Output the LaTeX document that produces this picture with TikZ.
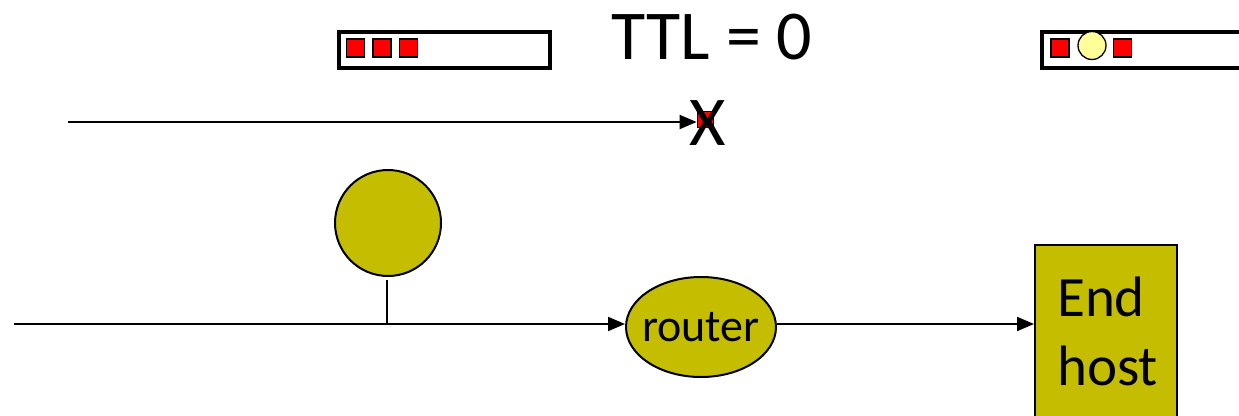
\documentclass[tikz,border=0pt]{standalone}
\usepackage{fontspec}
\setmainfont{Carlito}
\usetikzlibrary{arrows.meta,shapes.geometric,calc}
\definecolor{olive}{RGB}{197,190,0}
\definecolor{pktred}{RGB}{255,0,0}
\definecolor{pale}{RGB}{255,255,153}
\tikzset{
  buf/.style={draw=black,line width=4pt,fill=white,inner sep=0pt,anchor=north west},
  pkt/.style={draw=black,line width=1.3pt,fill=pktred,minimum size=18pt,inner sep=0pt},
  conn/.style={line width=2pt,-{Triangle[length=17pt,width=14pt]}},
  wire/.style={line width=2pt},
}
\begin{document}
\begin{tikzpicture}[x=1pt,y=-1pt]
\useasboundingbox[fill=white] (0,0) rectangle (1239,415);
% buffers
\node[buf,minimum width=211pt,minimum height=36pt] (buf1) at (336.5,29.5) {};
\node[pkt] (p1) at (355.5,48) {};
\node[pkt] (p2) at (382,48) {};
\node[pkt] (p3) at (408.5,48) {};
\node[buf,minimum width=220pt,minimum height=36pt] (buf2) at (1039.5,29.5) {};
\node[pkt] (q1) at (1060,48) {};
\node[circle,draw=black,line width=1.3pt,fill=pale,minimum size=28pt,inner sep=0pt] (q2) at (1092,45.5) {};
\node[pkt] (q3) at (1122.5,48) {};
% TTL label
\node[font=\fontsize{70}{74}\selectfont,inner sep=0pt] (ttl) at (712,37) {TTL = 0};
% dropped packet
\coordinate (src) at (68,122);
\node[pkt,minimum size=16pt,line width=0.8pt] (drop) at (705,119) {};
\node[font=\fontsize{70}{74}\selectfont,inner sep=0pt] (x) at (708,123) {X};
\draw[conn] (src) -- (src -| drop.west);
% host on the wire
\node[circle,draw=black,line width=2pt,fill=olive,minimum size=106pt,inner sep=0pt] (hostc) at (388,223) {};
\coordinate (left) at (14,324);
\coordinate (tap) at (387,324);
\node[ellipse,draw=black,line width=2pt,fill=olive,minimum width=150pt,minimum height=100pt,inner sep=0pt] (router) at (701,327) {};
\node[font=\fontsize{46}{50}\selectfont,inner sep=0pt] (routerlabel) at (router.center) {router};
\node[draw=black,line width=2pt,fill=olive,minimum width=142pt,minimum height=190pt,inner sep=0pt,anchor=north west] (endhost) at (1034,244) {};
\node[font=\fontsize{57}{69}\selectfont,align=left,anchor=north west,inner sep=0pt] (ehtext) at (1057,277) {End\\host};
\draw[wire] ($(tap |- hostc.south)+(0,3)$) -- (tap);
\draw[conn] (left) -- (left -| router.west);
\draw[conn] (router.east |- left) -- (left -| endhost.west);
\end{tikzpicture}
\end{document}
